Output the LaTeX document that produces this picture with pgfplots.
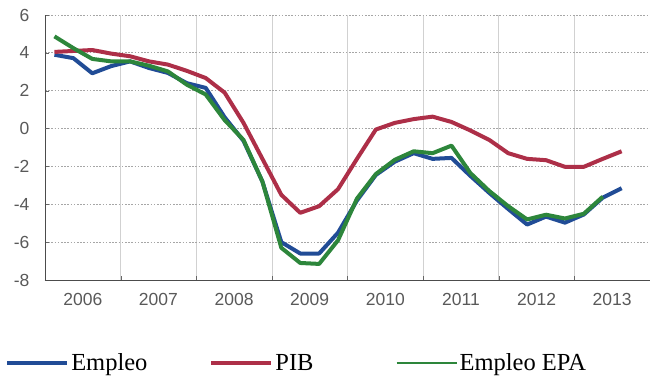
\documentclass[border=0pt]{standalone}
\usepackage{fontspec}
\setmainfont{Liberation Serif}
\newfontfamily\arial{Liberation Sans}
\usepackage{pgfplots}
\usepackage{pgfplotstable}
\pgfplotsset{compat=1.18}
\definecolor{cblue}{HTML}{214C96}
\definecolor{cred}{HTML}{AD2F48}
\definecolor{cgreen}{HTML}{2D863B}
\pgfplotstableread{
x emp pib epa
2006.125 3.90 4.05 4.87
2006.375 3.72 4.10 4.25
2006.625 2.92 4.15 3.68
2006.875 3.30 3.96 3.55
2007.125 3.55 3.82 3.55
2007.375 3.20 3.55 3.32
2007.625 2.94 3.38 3.02
2007.875 2.40 3.05 2.32
2008.125 2.15 2.67 1.80
2008.375 0.60 1.90 0.45
2008.625 -0.65 0.30 -0.60
2008.875 -2.80 -1.60 -2.80
2009.125 -6.00 -3.50 -6.30
2009.375 -6.60 -4.45 -7.10
2009.625 -6.60 -4.10 -7.15
2009.875 -5.50 -3.20 -5.90
2010.125 -3.80 -1.60 -3.70
2010.375 -2.45 -0.05 -2.40
2010.625 -1.75 0.30 -1.65
2010.875 -1.30 0.50 -1.20
2011.125 -1.60 0.63 -1.30
2011.375 -1.55 0.35 -0.90
2011.625 -2.50 -0.10 -2.35
2011.875 -3.40 -0.60 -3.30
2012.125 -4.25 -1.30 -4.10
2012.375 -5.07 -1.60 -4.80
2012.625 -4.65 -1.67 -4.55
2012.875 -4.97 -2.02 -4.75
2013.125 -4.54 -2.02 -4.50
2013.375 -3.65 -1.60 -3.60
2013.625 -3.15 -1.20 nan
}\data
\begin{document}
\begin{tikzpicture}
\begin{axis}[
  scale only axis, width=605bp, height=265bp,
  xmin=2006, xmax=2014, ymin=-8, ymax=6,
  axis x line*=bottom, axis y line*=left,
  axis line style={black!70, line width=0.8bp},
  xtick={2006.5,2007.5,2008.5,2009.5,2010.5,2011.5,2012.5,2013.5},
  xticklabels={2006,2007,2008,2009,2010,2011,2012,2013},
  major x tick style={draw=none},
  minor xtick={2007,2008,2009,2010,2011,2012,2013},
  minor x tick style={black!60},
  xminorgrids, minor x grid style={black!18, solid, line width=0.6bp},
  ytick={-8,-6,-4,-2,0,2,4,6},
  tick align=inside, major tick length=4bp, minor tick length=4bp,
  y tick style={black!60},
  ymajorgrids, major y grid style={black!35, dash pattern=on 1.6bp off 1.6bp, line width=0.8bp},
  extra y ticks={0}, extra y tick labels={},
  extra y tick style={grid=major, major grid style={black!70, solid, line width=0.8bp}},
  tick label style={font=\arial\fontsize{17.5bp}{19bp}\selectfont, text=black!65},
  /pgf/number format/assume math mode=true,
  yticklabel style={xshift=-12bp},
  xticklabel style={yshift=-10bp},
  legend columns=3,
  legend style={at={(rel axis cs:-0.066,-0.313)}, anchor=west, draw=none, fill=none, inner sep=0pt,
    font=\fontsize{24.5bp}{27bp}\selectfont, column sep=0pt,
    /tikz/column 2/.style={column sep=60bp},
    /tikz/column 4/.style={column sep=80bp}},
  legend cell align=left,
  legend image code/.code={\draw[#1] (0bp,0bp) -- (60bp,0bp);},
]
\coordinate (sw) at (rel axis cs:0,0);
\coordinate (ne) at (rel axis cs:1,1);
\addplot[cblue, line width=4bp, line join=round] table[x=x, y=emp] {\data};
\addlegendentry{Empleo}
\addplot[cred, line width=4bp, line join=round] table[x=x, y=pib] {\data};
\addlegendentry{PIB}
\addplot[cgreen, line width=4bp, line join=round, unbounded coords=discard,
  legend image post style={line width=2bp}] table[x=x, y=epa] {\data};
\addlegendentry{Empleo EPA}
\end{axis}
\pgfresetboundingbox
\useasboundingbox ([xshift=-45bp,yshift=-97bp]sw) rectangle ([yshift=15bp]ne);
\end{tikzpicture}
\end{document}
